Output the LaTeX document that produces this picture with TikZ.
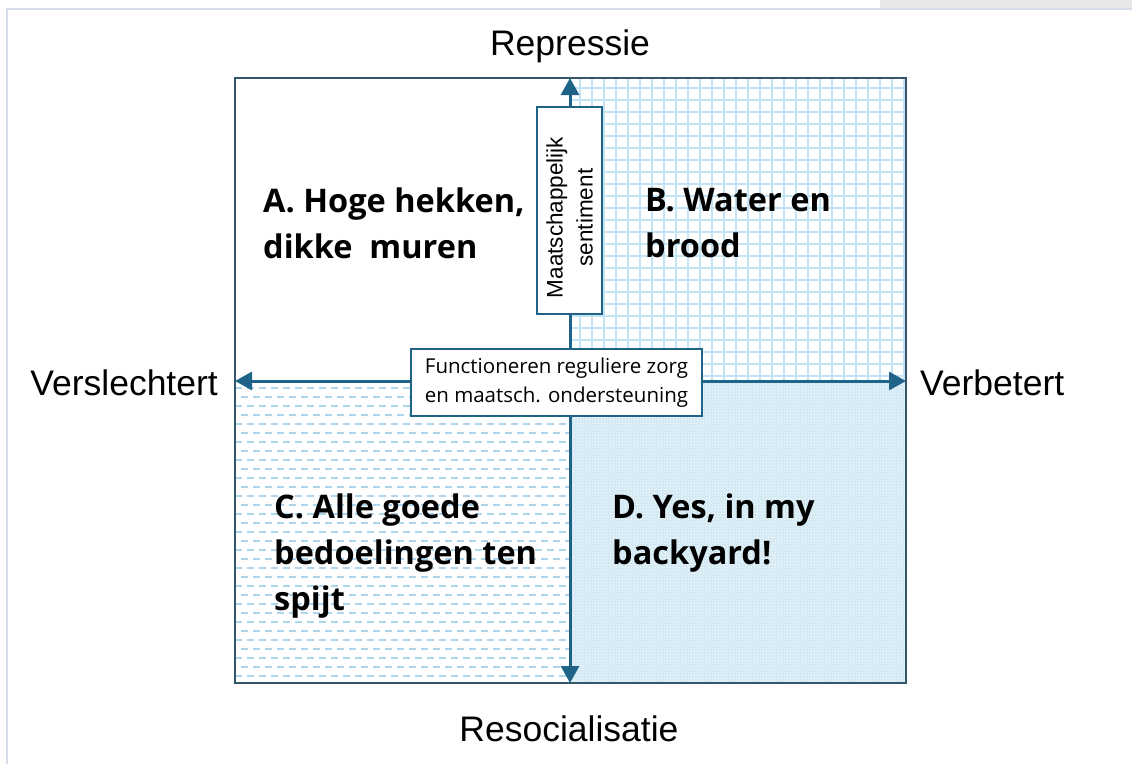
\documentclass[tikz,border=0pt]{standalone}
\usepackage{fontspec}
\setmainfont{Liberation Sans}
\newfontfamily\aptos{Open Sans}
\usepackage{tikz}
\usetikzlibrary{arrows.meta,patterns}

\definecolor{axisblue}{HTML}{1F6389}
\definecolor{framegrey}{HTML}{33566B}
\definecolor{gridblue}{HTML}{C4E3F4}
\definecolor{dashblue}{HTML}{ADD6EC}
\definecolor{dotblue}{HTML}{D2E9F4}
\definecolor{edgegrey}{HTML}{D6DDE9}

\begin{document}
\begin{tikzpicture}
[x=1pt,y=-1pt]
\tikzset{
	quadtext/.style = {anchor=north west, inner sep=0, align=left, font=\aptos\bfseries\fontsize{32.5}{46}\selectfont},
	axislabel/.style = {inner sep=0, font=\fontsize{35.5}{40}\selectfont},
	infobox/.style = {draw=axisblue, line width=1.6, fill=white, align=center, inner sep=0},
	axisline/.style = {draw=axisblue, line width=3, {Triangle[length=17,width=18]}-{Triangle[length=17,width=18]}},
	gridline/.style = {draw=gridblue, line width=1.3},
	dashline/.style = {draw=dashblue, line width=1.7, dash pattern=on 7pt off 5pt}
}
\useasboundingbox (0,0) rectangle (1132,764);

% screenshot edge
\fill[black!9] (880,0) rectangle (1132,8);
\draw[edgegrey, line width=1.5] (7,764) -- (7,9) -- (1132,9);

% quadrant B: grid
\begin{scope}
	\clip (570,78) rectangle (906,381);
	\foreach \gx in {580,592,...,906} \draw[gridline] (\gx,78) -- (\gx,381);
	\foreach \gy in {88,100,...,381} \draw[gridline] (570,\gy) -- (906,\gy);
\end{scope}

% quadrant C: dashes
\begin{scope}
	\clip (235,381) rectangle (570,683);
	\foreach \gy in {388,406,...,683} \draw[dashline] (235,\gy) -- (570,\gy);
	\foreach \gy in {397,415,...,683} \draw[dashline, dash phase=6pt] (235,\gy) -- (570,\gy);
\end{scope}

% quadrant D: dots
\fill[dotblue] (570,381) rectangle (906,683);
\fill[pattern=crosshatch dots, pattern color=white] (570,381) rectangle (906,683);

% frame and axes
\draw[framegrey, line width=2] (235,78) rectangle (906,683);
\coordinate (top) at (570,78);
\coordinate (bottom) at (570,683);
\coordinate (left) at (235,381);
\coordinate (right) at (906,381);
\draw[axisline] (bottom) -- (top);
\draw[axisline] (left) -- (right);

\node[infobox, rotate=90, minimum width=207, minimum height=65] (sentiment) at (569.5,210.5) {};
\node[rotate=90, align=center, inner sep=0, font=\fontsize{22.5}{30}\selectfont] (sentimenttext) at ([yshift=-7pt]sentiment.center) {Maatschappelijk\\sentiment};
\node[infobox, minimum width=291, minimum height=67, font=\aptos\fontsize{20.5}{29}\selectfont] (zorg) at (556.5,382.5) {Functioneren reguliere zorg\\en maatsch. ondersteuning};

% axis labels
\node[axislabel, anchor=base] (repressie) at (570,55) {Repressie};
\node[axislabel, anchor=base] (resocialisatie) at (569,741) {Resocialisatie};
\node[axislabel, anchor=base east] (verslechtert) at (218,395) {Verslechtert};
\node[axislabel, anchor=base west] (verbetert) at (920,395) {Verbetert};

% quadrants
\node[quadtext] (A) at (263,188) {A. Hoge hekken,\\dikke\ \ muren};
\node[quadtext] (B) at (645,188) {B. Water en\\brood};
\node[quadtext] (C) at (274,494) {C. Alle goede\\bedoelingen ten\\spijt};
\node[quadtext] (D) at (612,494) {D. Yes, in my\\backyard!};

\end{tikzpicture}
\end{document}
